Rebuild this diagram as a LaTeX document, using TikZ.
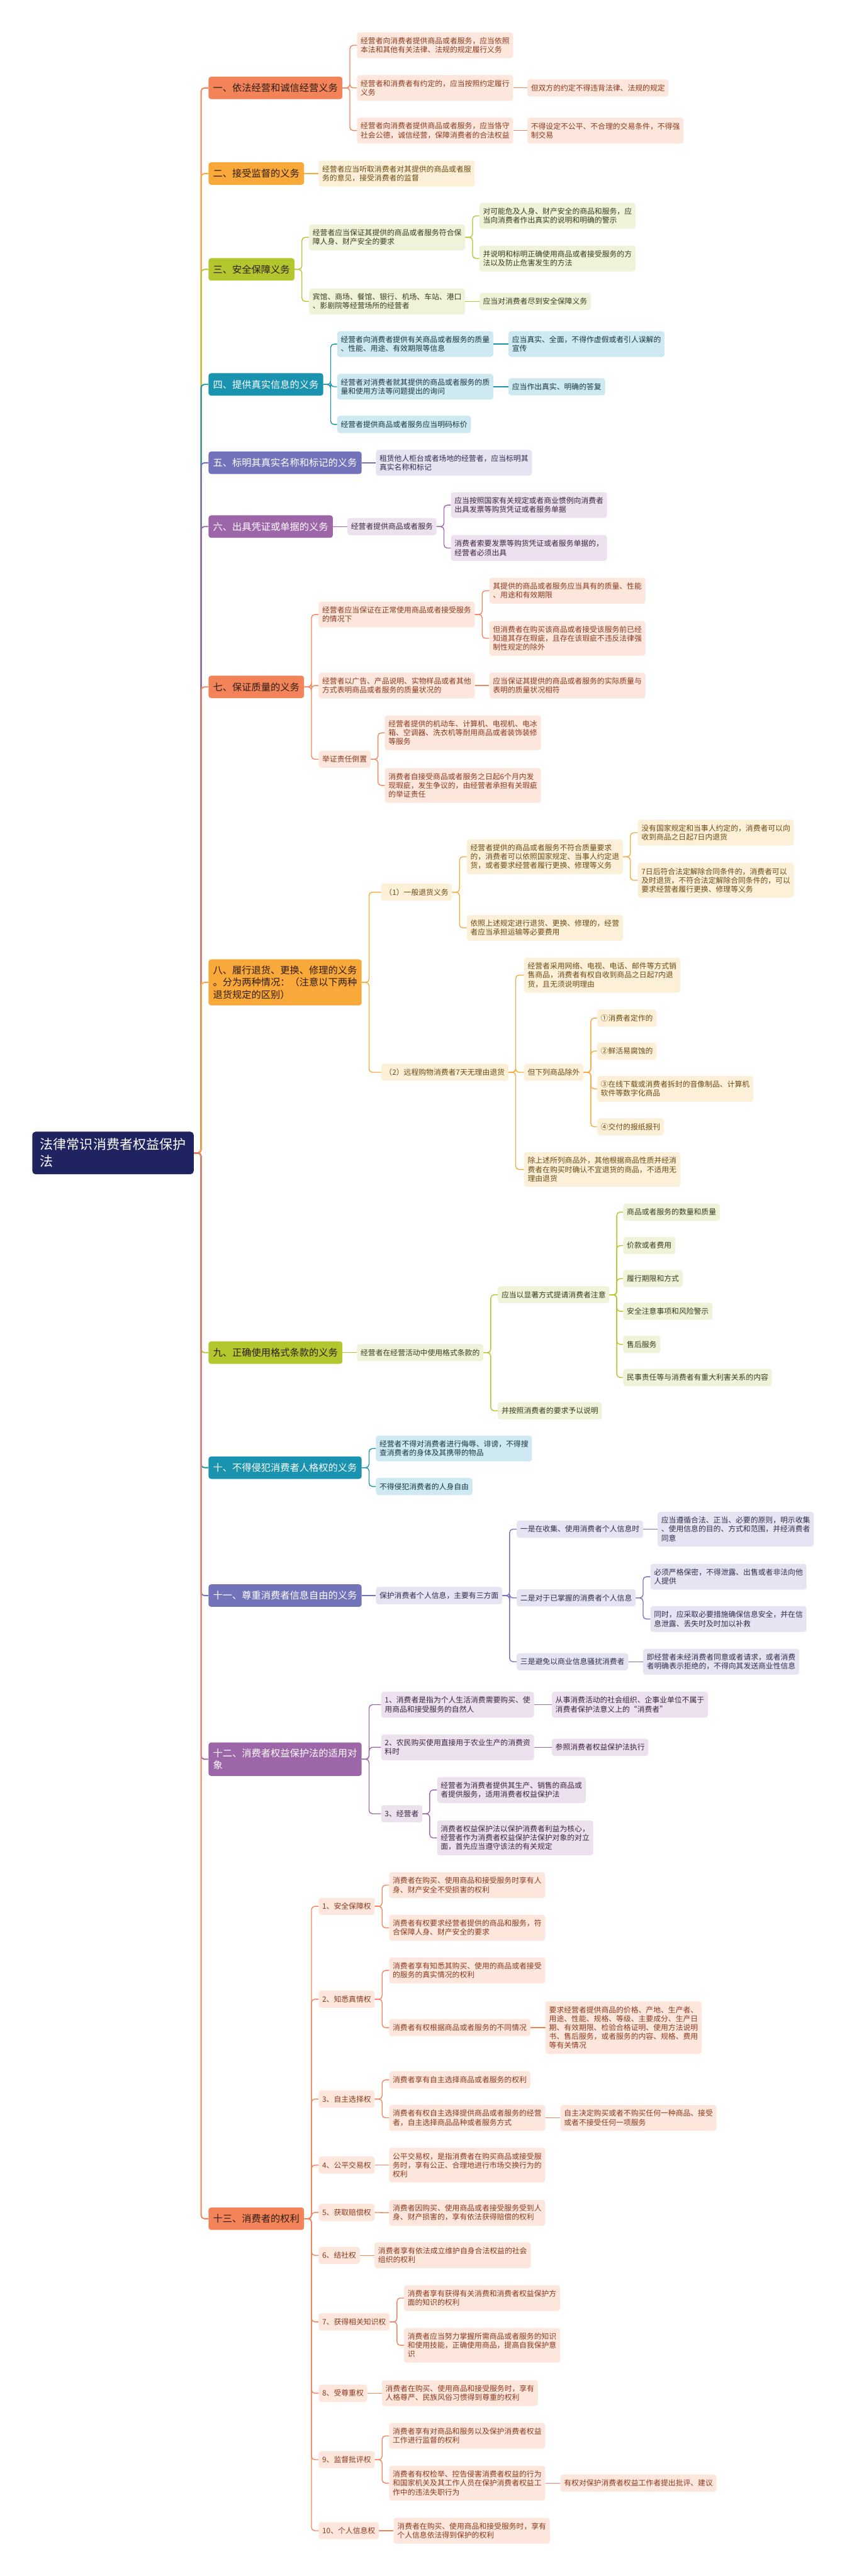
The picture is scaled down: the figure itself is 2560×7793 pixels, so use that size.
\documentclass[tikz,border=0pt]{standalone}
\usepackage{fontspec}
\setmainfont{Noto Sans CJK SC}
\usepackage{tikz}
\usetikzlibrary{calc,positioning}
\definecolor{cNavy}{HTML}{1F2461}
\definecolor{cInk}{HTML}{2E1C12}
\definecolor{cOrange}{HTML}{F3845A}
\definecolor{cOrangeL}{HTML}{FDE6DC}
\definecolor{cOrangeT}{HTML}{8B3A1E}
\definecolor{cAmber}{HTML}{F9A83A}
\definecolor{cAmberL}{HTML}{FDF0D9}
\definecolor{cAmberT}{HTML}{6B4A10}
\definecolor{cLime}{HTML}{B4C62E}
\definecolor{cLimeL}{HTML}{F0F3D9}
\definecolor{cLimeT}{HTML}{3B3B20}
\definecolor{cTeal}{HTML}{1993AF}
\definecolor{cTealL}{HTML}{CEE9F1}
\definecolor{cTealT}{HTML}{1E3440}
\definecolor{cIndigo}{HTML}{7373BC}
\definecolor{cIndigoL}{HTML}{E4E4F2}
\definecolor{cIndigoT}{HTML}{2E2E4A}
\definecolor{cPlum}{HTML}{9D66A8}
\definecolor{cPlumL}{HTML}{EEE1EF}
\definecolor{cPlumT}{HTML}{3C2340}
\tikzset{%
	rootbox/.style      = {fill=cNavy, text=white, rounded corners=5pt, align=left, inner xsep=12pt, inner ysep=10pt, font=\fontsize{20}{26}\selectfont},
	topic/.style 2 args = {fill=#1, text=#2, anchor=west, rounded corners=4pt, align=left, inner xsep=7pt, inner ysep=9.5pt, minimum height=34pt, font=\fontsize{14.5}{18.5}\selectfont},
	leaf/.style         = {fill=#1L, text=#1T, anchor=west, rounded corners=4pt, align=left, inner xsep=5.5pt, inner ysep=7.5pt, minimum height=26pt, font=\fontsize{11.25}{13.5}\selectfont},
	link/.style         = {draw=#1, line width=1.3pt, rounded corners=5pt},
	trunk/.style        = {draw=#1, line width=1.8pt, rounded corners=5pt},
}
\begin{document}
\begin{tikzpicture}[x=0.5pt,y=-0.5pt]
	\fill[white] (0,0) rectangle (2560,7793);
	\useasboundingbox (0,0) rectangle (2560,7793);
	\node[rootbox, anchor=east] (root) at (586,3488) {法律常识消费者权益保护\\法};
	% 一
	\node[topic={cOrange}{cInk}] (d1) at (630,266) {一、依法经营和诚信经营义务};
	\node[leaf=cOrange] (d1a) at (1079,137) {经营者向消费者提供商品或者服务，应当依照\\本法和其他有关法律、法规的规定履行义务};
	\node[leaf=cOrange] (d1b) at (1079,266) {经营者和消费者有约定的，应当按照约定履行\\义务};
	\node[leaf=cOrange] (d1b1) at (1594,266) {但双方的约定不得违背法律、法规的规定};
	\node[leaf=cOrange] (d1c) at (1079,395) {经营者向消费者提供商品或者服务，应当恪守\\社会公德，诚信经营，保障消费者的合法权益};
	\node[leaf=cOrange] (d1c1) at (1594,395) {不得设定不公平、不合理的交易条件，不得强\\制交易};
	% 二
	\node[topic={cAmber}{cInk}] (d2) at (630,525) {二、接受监督的义务};
	\node[leaf=cAmber] (d2a) at (963,525) {经营者应当听取消费者对其提供的商品或者服\\务的意见，接受消费者的监督};
	% 三
	\node[topic={cLime}{cInk}] (d3) at (630,815) {三、安全保障义务};
	\node[leaf=cLime] (d3a) at (934,718) {经营者应当保证其提供的商品或者服务符合保\\障人身、财产安全的要求};
	\node[leaf=cLime] (d3a1) at (1449,653) {对可能危及人身、财产安全的商品和服务，应\\当向消费者作出真实的说明和明确的警示};
	\node[leaf=cLime] (d3a2) at (1449,782) {并说明和标明正确使用商品或者接受服务的方\\法以及防止危害发生的方法};
	\node[leaf=cLime] (d3b) at (934,912) {宾馆、商场、餐馆、银行、机场、车站、港口\\、影剧院等经营场所的经营者};
	\node[leaf=cLime] (d3b1) at (1449,912) {应当对消费者尽到安全保障义务};
	% 四
	\node[topic={cTeal}{white}] (d4) at (630,1163) {四、提供真实信息的义务};
	\node[leaf=cTeal] (d4a) at (1019,1041) {经营者向消费者提供有关商品或者服务的质量\\、性能、用途、有效期限等信息};
	\node[leaf=cTeal] (d4a1) at (1537,1041) {应当真实、全面，不得作虚假或者引人误解的\\宣传};
	\node[leaf=cTeal] (d4b) at (1019,1170) {经营者对消费者就其提供的商品或者服务的质\\量和使用方法等问题提出的询问};
	\node[leaf=cTeal] (d4b1) at (1537,1170) {应当作出真实、明确的答复};
	\node[leaf=cTeal] (d4c) at (1019,1284) {经营者提供商品或者服务应当明码标价};
	% 五
	\node[topic={cIndigo}{white}] (d5) at (630,1400) {五、标明其真实名称和标记的义务};
	\node[leaf=cIndigo] (d5a) at (1136,1400) {租赁他人柜台或者场地的经营者，应当标明其\\真实名称和标记};
	% 六
	\node[topic={cPlum}{white}] (d6) at (630,1593) {六、出具凭证或单据的义务};
	\node[leaf=cPlum] (d6a) at (1050,1593) {经营者提供商品或者服务};
	\node[leaf=cPlum] (d6a1) at (1363,1528) {应当按照国家有关规定或者商业惯例向消费者\\出具发票等购货凭证或者服务单据};
	\node[leaf=cPlum] (d6a2) at (1363,1658) {消费者索要发票等购货凭证或者服务单据的，\\经营者必须出具};
	% 七
	\node[topic={cOrange}{cInk}] (d7) at (630,2078) {七、保证质量的义务};
	\node[leaf=cOrange] (d7a) at (963,1859) {经营者应当保证在正常使用商品或者接受服务\\的情况下};
	\node[leaf=cOrange] (d7a1) at (1479,1787) {其提供的商品或者服务应当具有的质量、性能\\、用途和有效期限};
	\node[leaf=cOrange] (d7a2) at (1479,1931) {但消费者在购买该商品或者接受该服务前已经\\知道其存在瑕疵，且存在该瑕疵不违反法律强\\制性规定的除外};
	\node[leaf=cOrange] (d7b) at (963,2074) {经营者以广告、产品说明、实物样品或者其他\\方式表明商品或者服务的质量状况的};
	\node[leaf=cOrange] (d7b1) at (1479,2074) {应当保证其提供的商品或者服务的实际质量与\\表明的质量状况相符};
	\node[leaf=cOrange] (d7c) at (963,2297) {举证责任倒置};
	\node[leaf=cOrange] (d7c1) at (1163,2217) {经营者提供的机动车、计算机、电视机、电冰\\箱、空调器、洗衣机等耐用商品或者装饰装修\\等服务};
	\node[leaf=cOrange] (d7c2) at (1163,2376) {消费者自接受商品或者服务之日起6个月内发\\现瑕疵，发生争议的，由经营者承担有关瑕疵\\的举证责任};
	% 八
	\node[topic={cAmber}{cInk}] (d8) at (630,2972) {八、履行退货、更换、修理的义务\\。分为两种情况：（注意以下两种\\退货规定的区别）};
	\node[leaf=cAmber] (d8a) at (1152,2699) {（1）一般退货义务};
	\node[leaf=cAmber] (d8a1) at (1411,2592) {经营者提供的商品或者服务不符合质量要求\\的，消费者可以依照国家规定、当事人约定退\\货，或者要求经营者履行更换、修理等义务};
	\node[leaf=cAmber] (d8a1a) at (1928,2519) {没有国家规定和当事人约定的，消费者可以向\\收到商品之日起7日内退货};
	\node[leaf=cAmber] (d8a1b) at (1928,2663) {7日后符合法定解除合同条件的，消费者可以\\及时退货，不符合法定解除合同条件的，可以\\要求经营者履行更换、修理等义务};
	\node[leaf=cAmber] (d8a2) at (1411,2807) {依照上述规定进行退货、更换、修理的，经营\\者应当承担运输等必要费用};
	\node[leaf=cAmber] (d8b) at (1152,3244) {（2）远程购物消费者7天无理由退货};
	\node[leaf=cAmber] (d8b1) at (1584,2950) {经营者采用网络、电视、电话、邮件等方式销\\售商品，消费者有权自收到商品之日起7内退\\货，且无须说明理由};
	\node[leaf=cAmber] (d8b2) at (1584,3244) {但下列商品除外};
	\node[leaf=cAmber] (d8b2a) at (1805,3080) {①消费者定作的};
	\node[leaf=cAmber] (d8b2b) at (1805,3180) {②鲜活易腐蚀的};
	\node[leaf=cAmber] (d8b2c) at (1805,3294) {③在线下载或消费者拆封的音像制品、计算机\\软件等数字化商品};
	\node[leaf=cAmber] (d8b2d) at (1805,3409) {④交付的报纸报刊};
	\node[leaf=cAmber] (d8b3) at (1584,3538) {除上述所列商品外，其他根据商品性质并经消\\费者在购买时确认不宜退货的商品，不适用无\\理由退货};
	% 九
	\node[topic={cLime}{cInk}] (d9) at (630,4092) {九、正确使用格式条款的义务};
	\node[leaf=cLime] (d9a) at (1079,4092) {经营者在经营活动中使用格式条款的};
	\node[leaf=cLime] (d9a1) at (1505,3917) {应当以显著方式提请消费者注意};
	\node[leaf=cLime] (d9a1a) at (1884,3667) {商品或者服务的数量和质量};
	\node[leaf=cLime] (d9a1b) at (1884,3768) {价款或者费用};
	\node[leaf=cLime] (d9a1c) at (1884,3868) {履行期限和方式};
	\node[leaf=cLime] (d9a1d) at (1884,3967) {安全注意事项和风险警示};
	\node[leaf=cLime] (d9a1e) at (1884,4067) {售后服务};
	\node[leaf=cLime] (d9a1f) at (1884,4167) {民事责任等与消费者有重大利害关系的内容};
	\node[leaf=cLime] (d9a2) at (1505,4268) {并按照消费者的要求予以说明};
	% 十
	\node[topic={cTeal}{white}] (d10) at (630,4440) {十、不得侵犯消费者人格权的义务};
	\node[leaf=cTeal] (d10a) at (1136,4382) {经营者不得对消费者进行侮辱、诽谤，不得搜\\查消费者的身体及其携带的物品};
	\node[leaf=cTeal] (d10b) at (1136,4497) {不得侵犯消费者的人身自由};
	% 十一
	\node[topic={cIndigo}{white}] (d11) at (630,4827) {十一、尊重消费者信息自由的义务};
	\node[leaf=cIndigo] (d11a) at (1136,4827) {保护消费者个人信息，主要有三方面};
	\node[leaf=cIndigo] (d11a1) at (1562,4626) {一是在收集、使用消费者个人信息时};
	\node[leaf=cIndigo] (d11a1a) at (1988,4626) {应当遵循合法、正当、必要的原则，明示收集\\、使用信息的目的、方式和范围，并经消费者\\同意};
	\node[leaf=cIndigo] (d11a2) at (1562,4834) {二是对于已掌握的消费者个人信息};
	\node[leaf=cIndigo] (d11a2a) at (1966,4770) {必须严格保密，不得泄露、出售或者非法向他\\人提供};
	\node[leaf=cIndigo] (d11a2b) at (1966,4898) {同时，应采取必要措施确保信息安全，并在信\\息泄露、丢失时及时加以补救};
	\node[leaf=cIndigo] (d11a3) at (1562,5027) {三是避免以商业信息骚扰消费者};
	\node[leaf=cIndigo] (d11a3a) at (1944,5027) {即经营者未经消费者同意或者请求，或者消费\\者明确表示拒绝的，不得向其发送商业性信息};
	% 十二
	\node[topic={cPlum}{white}] (d12) at (630,5322) {十二、消费者权益保护法的适用对\\象};
	\node[leaf=cPlum] (d12a) at (1152,5157) {1、消费者是指为个人生活消费需要购买、使\\用商品和接受服务的自然人};
	\node[leaf=cPlum] (d12a1) at (1668,5157) {从事消费活动的社会组织、企事业单位不属于\\消费者保护法意义上的“消费者”};
	\node[leaf=cPlum] (d12b) at (1152,5286) {2、农民购买使用直接用于农业生产的消费资\\料时};
	\node[leaf=cPlum] (d12b1) at (1668,5286) {参照消费者权益保护法执行};
	\node[leaf=cPlum] (d12c) at (1152,5487) {3、经营者};
	\node[leaf=cPlum] (d12c1) at (1321,5415) {经营者为消费者提供其生产、销售的商品或\\者提供服务，适用消费者权益保护法};
	\node[leaf=cPlum] (d12c2) at (1321,5560) {消费者权益保护法以保护消费者利益为核心，\\经营者作为消费者权益保护法保护对象的对立\\面，首先应当遵守该法的有关规定};
	% 十三
	\node[topic={cOrange}{cInk}] (d13) at (630,6712) {十三、消费者的权利};
	\node[leaf=cOrange] (d13a) at (963,5767) {1、安全保障权};
	\node[leaf=cOrange] (d13a1) at (1176,5703) {消费者在购买、使用商品和接受服务时享有人\\身、财产安全不受损害的权利};
	\node[leaf=cOrange] (d13a2) at (1176,5832) {消费者有权要求经营者提供的商品和服务，符\\合保障人身、财产安全的要求};
	\node[leaf=cOrange] (d13b) at (963,6048) {2、知悉真情权};
	\node[leaf=cOrange] (d13b1) at (1176,5961) {消费者享有知悉其购买、使用的商品或者接受\\的服务的真实情况的权利};
	\node[leaf=cOrange] (d13b2) at (1176,6134) {消费者有权根据商品或者服务的不同情况};
	\node[leaf=cOrange] (d13b2a) at (1649,6134) {要求经营者提供商品的价格、产地、生产者、\\用途、性能、规格、等级、主要成分、生产日\\期、有效期限、检验合格证明、使用方法说明\\书、售后服务，或者服务的内容、规格、费用\\等有关情况};
	\node[leaf=cOrange] (d13c) at (963,6350) {3、自主选择权};
	\node[leaf=cOrange] (d13c1) at (1176,6292) {消费者享有自主选择商品或者服务的权利};
	\node[leaf=cOrange] (d13c2) at (1176,6407) {消费者有权自主选择提供商品或者服务的经营\\者，自主选择商品品种或者服务方式};
	\node[leaf=cOrange] (d13c2a) at (1694,6407) {自主决定购买或者不购买任何一种商品、接受\\或者不接受任何一项服务};
	\node[leaf=cOrange] (d13d) at (963,6550) {4、公平交易权};
	\node[leaf=cOrange] (d13d1) at (1176,6550) {公平交易权，是指消费者在购买商品或接受服\\务时，享有公正、合理地进行市场交换行为的\\权利};
	\node[leaf=cOrange] (d13e) at (963,6693) {5、获取赔偿权};
	\node[leaf=cOrange] (d13e1) at (1176,6694) {消费者因购买、使用商品或者接受服务受到人\\身、财产损害的，享有依法获得赔偿的权利};
	\node[leaf=cOrange] (d13f) at (963,6823) {6、结社权};
	\node[leaf=cOrange] (d13f1) at (1132,6823) {消费者享有依法成立维护自身合法权益的社会\\组织的权利};
	\node[leaf=cOrange] (d13g) at (963,7024) {7、获得相关知识权};
	\node[leaf=cOrange] (d13g1) at (1221,6952) {消费者享有获得有关消费和消费者权益保护方\\面的知识的权利};
	\node[leaf=cOrange] (d13g2) at (1221,7095) {消费者应当努力掌握所需商品或者服务的知识\\和使用技能，正确使用商品，提高自我保护意\\识};
	\node[leaf=cOrange] (d13h) at (963,7240) {8、受尊重权};
	\node[leaf=cOrange] (d13h1) at (1154,7240) {消费者在购买、使用商品和接受服务时，享有\\人格尊严、民族风俗习惯得到尊重的权利};
	\node[leaf=cOrange] (d13i) at (963,7441) {9、监督批评权};
	\node[leaf=cOrange] (d13i1) at (1176,7369) {消费者享有对商品和服务以及保护消费者权益\\工作进行监督的权利};
	\node[leaf=cOrange] (d13i2) at (1176,7512) {消费者有权检举、控告侵害消费者权益的行为\\和国家机关及其工作人员在保护消费者权益工\\作中的违法失职行为};
	\node[leaf=cOrange] (d13i2a) at (1694,7512) {有权对保护消费者权益工作者提出批评、建议};
	\node[leaf=cOrange] (d13j) at (963,7656) {10、个人信息权};
	\node[leaf=cOrange] (d13j1) at (1190,7656) {消费者在购买、使用商品和接受服务时，享有\\个人信息依法得到保护的权利};
	% trunk
	\draw[trunk=cOrange] (root.east) -- ++(22,0) |- (d1.west);
	\draw[trunk=cAmber] (root.east) -- ++(22,0) |- (d2.west);
	\draw[trunk=cLime] (root.east) -- ++(22,0) |- (d3.west);
	\draw[trunk=cTeal] (root.east) -- ++(22,0) |- (d4.west);
	\draw[trunk=cIndigo] (root.east) -- ++(22,0) |- (d5.west);
	\draw[trunk=cPlum] (root.east) -- ++(22,0) |- (d6.west);
	\draw[trunk=cOrange] (root.east) -- ++(22,0) |- (d7.west);
	\draw[trunk=cAmber] (root.east) -- ++(22,0) |- (d8.west);
	\draw[trunk=cLime] (root.east) -- ++(22,0) |- (d9.west);
	\draw[trunk=cTeal] (root.east) -- ++(22,0) |- (d10.west);
	\draw[trunk=cIndigo] (root.east) -- ++(22,0) |- (d11.west);
	\draw[trunk=cPlum] (root.east) -- ++(22,0) |- (d12.west);
	\draw[trunk=cOrange] (root.east) -- ++(22,0) |- (d13.west);
	% branches
	\draw[link=cOrange] (d1.east) -- ++(22,0) |- (d1a.west);
	\draw[link=cOrange] (d1.east) -- ++(22,0) |- (d1b.west);
	\draw[link=cOrange] (d1.east) -- ++(22,0) |- (d1c.west);
	\draw[link=cOrange] (d1b.east) -- (d1b1.west);
	\draw[link=cOrange] (d1c.east) -- (d1c1.west);
	\draw[link=cAmber] (d2.east) -- (d2a.west);
	\draw[link=cLime] (d3.east) -- ++(22,0) |- (d3a.west);
	\draw[link=cLime] (d3.east) -- ++(22,0) |- (d3b.west);
	\draw[link=cLime] (d3a.east) -- ++(22,0) |- (d3a1.west);
	\draw[link=cLime] (d3a.east) -- ++(22,0) |- (d3a2.west);
	\draw[link=cLime] (d3b.east) -- (d3b1.west);
	\draw[link=cTeal] (d4.east) -- ++(22,0) |- (d4a.west);
	\draw[link=cTeal] (d4.east) -- ++(22,0) |- (d4b.west);
	\draw[link=cTeal] (d4.east) -- ++(22,0) |- (d4c.west);
	\draw[link=cTeal] (d4a.east) -- (d4a1.west);
	\draw[link=cTeal] (d4b.east) -- (d4b1.west);
	\draw[link=cIndigo] (d5.east) -- (d5a.west);
	\draw[link=cPlum] (d6.east) -- (d6a.west);
	\draw[link=cPlum] (d6a.east) -- ++(22,0) |- (d6a1.west);
	\draw[link=cPlum] (d6a.east) -- ++(22,0) |- (d6a2.west);
	\draw[link=cOrange] (d7.east) -- ++(22,0) |- (d7a.west);
	\draw[link=cOrange] (d7.east) -- ++(22,0) |- (d7b.west);
	\draw[link=cOrange] (d7.east) -- ++(22,0) |- (d7c.west);
	\draw[link=cOrange] (d7a.east) -- ++(22,0) |- (d7a1.west);
	\draw[link=cOrange] (d7a.east) -- ++(22,0) |- (d7a2.west);
	\draw[link=cOrange] (d7b.east) -- (d7b1.west);
	\draw[link=cOrange] (d7c.east) -- ++(22,0) |- (d7c1.west);
	\draw[link=cOrange] (d7c.east) -- ++(22,0) |- (d7c2.west);
	\draw[link=cAmber] (d8.east) -- ++(22,0) |- (d8a.west);
	\draw[link=cAmber] (d8.east) -- ++(22,0) |- (d8b.west);
	\draw[link=cAmber] (d8a.east) -- ++(22,0) |- (d8a1.west);
	\draw[link=cAmber] (d8a.east) -- ++(22,0) |- (d8a2.west);
	\draw[link=cAmber] (d8a1.east) -- ++(22,0) |- (d8a1a.west);
	\draw[link=cAmber] (d8a1.east) -- ++(22,0) |- (d8a1b.west);
	\draw[link=cAmber] (d8b.east) -- ++(22,0) |- (d8b1.west);
	\draw[link=cAmber] (d8b.east) -- ++(22,0) |- (d8b2.west);
	\draw[link=cAmber] (d8b.east) -- ++(22,0) |- (d8b3.west);
	\draw[link=cAmber] (d8b2.east) -- ++(22,0) |- (d8b2a.west);
	\draw[link=cAmber] (d8b2.east) -- ++(22,0) |- (d8b2b.west);
	\draw[link=cAmber] (d8b2.east) -- ++(22,0) |- (d8b2c.west);
	\draw[link=cAmber] (d8b2.east) -- ++(22,0) |- (d8b2d.west);
	\draw[link=cLime] (d9.east) -- (d9a.west);
	\draw[link=cLime] (d9a.east) -- ++(22,0) |- (d9a1.west);
	\draw[link=cLime] (d9a.east) -- ++(22,0) |- (d9a2.west);
	\draw[link=cLime] (d9a1.east) -- ++(22,0) |- (d9a1a.west);
	\draw[link=cLime] (d9a1.east) -- ++(22,0) |- (d9a1b.west);
	\draw[link=cLime] (d9a1.east) -- ++(22,0) |- (d9a1c.west);
	\draw[link=cLime] (d9a1.east) -- ++(22,0) |- (d9a1d.west);
	\draw[link=cLime] (d9a1.east) -- ++(22,0) |- (d9a1e.west);
	\draw[link=cLime] (d9a1.east) -- ++(22,0) |- (d9a1f.west);
	\draw[link=cTeal] (d10.east) -- ++(22,0) |- (d10a.west);
	\draw[link=cTeal] (d10.east) -- ++(22,0) |- (d10b.west);
	\draw[link=cIndigo] (d11.east) -- (d11a.west);
	\draw[link=cIndigo] (d11a.east) -- ++(22,0) |- (d11a1.west);
	\draw[link=cIndigo] (d11a.east) -- ++(22,0) |- (d11a2.west);
	\draw[link=cIndigo] (d11a.east) -- ++(22,0) |- (d11a3.west);
	\draw[link=cIndigo] (d11a1.east) -- (d11a1a.west);
	\draw[link=cIndigo] (d11a2.east) -- ++(22,0) |- (d11a2a.west);
	\draw[link=cIndigo] (d11a2.east) -- ++(22,0) |- (d11a2b.west);
	\draw[link=cIndigo] (d11a3.east) -- (d11a3a.west);
	\draw[link=cPlum] (d12.east) -- ++(22,0) |- (d12a.west);
	\draw[link=cPlum] (d12.east) -- ++(22,0) |- (d12b.west);
	\draw[link=cPlum] (d12.east) -- ++(22,0) |- (d12c.west);
	\draw[link=cPlum] (d12a.east) -- (d12a1.west);
	\draw[link=cPlum] (d12b.east) -- (d12b1.west);
	\draw[link=cPlum] (d12c.east) -- ++(22,0) |- (d12c1.west);
	\draw[link=cPlum] (d12c.east) -- ++(22,0) |- (d12c2.west);
	\draw[link=cOrange] (d13.east) -- ++(22,0) |- (d13a.west);
	\draw[link=cOrange] (d13.east) -- ++(22,0) |- (d13b.west);
	\draw[link=cOrange] (d13.east) -- ++(22,0) |- (d13c.west);
	\draw[link=cOrange] (d13.east) -- ++(22,0) |- (d13d.west);
	\draw[link=cOrange] (d13.east) -- ++(22,0) |- (d13e.west);
	\draw[link=cOrange] (d13.east) -- ++(22,0) |- (d13f.west);
	\draw[link=cOrange] (d13.east) -- ++(22,0) |- (d13g.west);
	\draw[link=cOrange] (d13.east) -- ++(22,0) |- (d13h.west);
	\draw[link=cOrange] (d13.east) -- ++(22,0) |- (d13i.west);
	\draw[link=cOrange] (d13.east) -- ++(22,0) |- (d13j.west);
	\draw[link=cOrange] (d13a.east) -- ++(22,0) |- (d13a1.west);
	\draw[link=cOrange] (d13a.east) -- ++(22,0) |- (d13a2.west);
	\draw[link=cOrange] (d13b.east) -- ++(22,0) |- (d13b1.west);
	\draw[link=cOrange] (d13b.east) -- ++(22,0) |- (d13b2.west);
	\draw[link=cOrange] (d13b2.east) -- (d13b2a.west);
	\draw[link=cOrange] (d13c.east) -- ++(22,0) |- (d13c1.west);
	\draw[link=cOrange] (d13c.east) -- ++(22,0) |- (d13c2.west);
	\draw[link=cOrange] (d13c2.east) -- (d13c2a.west);
	\draw[link=cOrange] (d13d.east) -- (d13d1.west);
	\draw[link=cOrange] (d13e.east) -- (d13e1.west);
	\draw[link=cOrange] (d13f.east) -- (d13f1.west);
	\draw[link=cOrange] (d13g.east) -- ++(22,0) |- (d13g1.west);
	\draw[link=cOrange] (d13g.east) -- ++(22,0) |- (d13g2.west);
	\draw[link=cOrange] (d13h.east) -- (d13h1.west);
	\draw[link=cOrange] (d13i.east) -- ++(22,0) |- (d13i1.west);
	\draw[link=cOrange] (d13i.east) -- ++(22,0) |- (d13i2.west);
	\draw[link=cOrange] (d13i2.east) -- (d13i2a.west);
	\draw[link=cOrange] (d13j.east) -- (d13j1.west);
\end{tikzpicture}
\end{document}
